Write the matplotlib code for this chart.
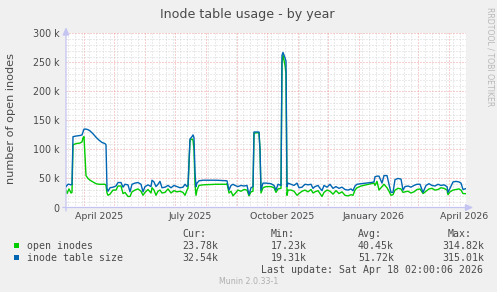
import matplotlib
matplotlib.use("Agg")
import matplotlib.pyplot as plt
import matplotlib.dates as mdates
from matplotlib.ticker import MultipleLocator, FuncFormatter
import pandas as pd

# ---------------- data (values in thousands) ----------------
start_date = "2025-03-14"
day_offset = [0, 1, 2, 3, 5, 6, 7, 10, 14, 16, 17, 18, 19, 20, 22, 24, 27, 30, 33, 36,
              39, 40, 41, 42, 44, 47, 50, 52, 55, 57, 59, 62, 64, 66, 69, 72, 75, 77, 79, 82,
              85, 86, 88, 90, 92, 94, 96, 99, 102, 105, 108, 111, 114, 117, 119, 121, 122, 124, 126, 127,
              128, 129, 130, 131, 133, 137, 150, 160, 161, 163, 165, 167, 169, 172, 175, 178, 181, 183, 185, 187,
              188, 193, 194, 195, 197, 200, 205, 208, 210, 212, 215, 216, 217, 219, 220, 221, 222, 225, 228, 231,
              233, 236, 239, 242, 245, 247, 249, 252, 254, 256, 258, 261, 264, 267, 270, 273, 276, 279, 282, 285,
              287, 289, 291, 295, 300, 305, 308, 309, 311, 313, 316, 318, 321, 323, 325, 327, 329, 332, 335, 337,
              339, 342, 345, 348, 351, 354, 357, 360, 363, 366, 369, 372, 375, 378, 381, 382, 384, 387, 390, 393,
              395, 397, 400]
open_inodes_k = [30, 24, 28, 32, 25, 26, 108, 110, 111, 113, 120, 122, 90, 55, 50, 47, 44, 41, 40, 40,
                 40, 38, 25, 21, 23, 30, 30, 37, 37, 24, 26, 19, 19, 27, 30, 32, 28, 21, 26, 31,
                 25, 34, 30, 21, 28, 30, 25, 26, 32, 25, 29, 27, 28, 26, 21, 30, 33, 116, 118, 116,
                 100, 40, 21, 30, 38, 39, 40, 40, 41, 25, 28, 20, 24, 30, 28, 31, 30, 20, 27, 28,
                 128, 129, 100, 25, 34, 36, 36, 34, 26, 32, 33, 250, 262, 245, 230, 21, 30, 30, 28, 21,
                 24, 28, 30, 27, 31, 25, 27, 29, 24, 19, 26, 30, 28, 23, 29, 24, 27, 21, 20, 22,
                 21, 30, 34, 37, 39, 41, 42, 38, 45, 30, 36, 40, 34, 28, 21, 22, 30, 33, 32, 26,
                 27, 28, 25, 27, 31, 32, 24, 28, 32, 33, 30, 31, 34, 33, 30, 22, 27, 30, 31, 32,
                 30, 24, 23.78]
table_size_k = [36, 38, 40, 40, 39, 40, 122, 123, 124, 125, 130, 135, 135, 135, 134, 132, 127, 121, 116, 112,
                110, 108, 33, 28, 34, 35, 37, 43, 43, 35, 40, 39, 27, 40, 42, 43, 40, 27, 36, 39,
                36, 47, 44, 36, 40, 45, 34, 35, 38, 34, 38, 36, 34, 35, 40, 36, 38, 118, 122, 125,
                120, 60, 36, 42, 46, 47, 47, 46, 46, 30, 38, 40, 38, 36, 38, 37, 38, 22, 34, 36,
                130, 130, 100, 30, 42, 42, 41, 38, 30, 40, 38, 262, 267, 258, 252, 36, 42, 40, 38, 42,
                34, 35, 40, 39, 40, 33, 36, 38, 33, 29, 38, 35, 40, 33, 36, 33, 35, 31, 30, 32,
                29, 37, 40, 41, 42, 43, 44, 53, 54, 54, 42, 55, 55, 40, 26, 26, 48, 50, 49, 30,
                36, 37, 35, 38, 40, 40, 26, 38, 41, 38, 37, 40, 38, 39, 36, 26, 33, 44, 45, 44,
                42, 31, 32.54]

series_labels = ["open inodes", "inode table size"]
series_colors = ["#00CC00", "#0066B3"]
stat_headers = ["Cur:", "Min:", "Avg:", "Max:"]
stats_open = ["23.78k", "17.23k", "40.45k", "314.82k"]
stats_table = ["32.54k", "19.31k", "51.72k", "315.01k"]
quarter_labels = ["April 2025", "July 2025", "October 2025", "January 2026", "April 2026"]
quarter_label_dates = ["2025-04-16", "2025-07-16", "2025-10-16", "2026-01-16", "2026-04-16"]

# ---------------- figure ----------------
W, H = 497, 292
DPI = 100
BG = "#F0F0F0"
TXT = "#4a4a4a"
fig = plt.figure(figsize=(W / DPI, H / DPI), dpi=DPI, facecolor=BG)

def fx(px):
    return px / W

def fy(py):
    return 1 - py / H

x0, x1 = 66, 466
y_top, y_bot = 33.3, 207.5
ax = fig.add_axes([fx(x0), fy(y_bot), (x1 - x0) / W, (y_bot - y_top) / H])
ax.set_facecolor("white")

t0 = pd.Timestamp(start_date)
dates = [t0 + pd.Timedelta(days=d) for d in day_offset]
ax.set_xlim(t0, t0 + pd.Timedelta(days=400))
ax.set_ylim(0, 300000)

# grid
ax.yaxis.set_major_locator(MultipleLocator(50000))
ax.yaxis.set_minor_locator(MultipleLocator(10000))
ax.xaxis.set_major_locator(mdates.MonthLocator())
ax.xaxis.set_minor_locator(mdates.WeekdayLocator(byweekday=mdates.SU))
ax.grid(which="minor", color="#D6D6D6", linestyle=(0, (1, 2)), linewidth=0.72)
ax.grid(which="major", color="#F2A0A0", linestyle=(0, (1, 2)), linewidth=0.72)
ax.set_axisbelow(True)

ax.plot(dates, [v * 1000 for v in open_inodes_k], color=series_colors[0], lw=1.0, zorder=3)
ax.plot(dates, [v * 1000 for v in table_size_k], color=series_colors[1], lw=1.0, zorder=4)

# ticks / labels
ax.tick_params(axis="both", which="both", length=0)
ax.xaxis.set_major_formatter(FuncFormatter(lambda v, p: ""))
ax.yaxis.set_major_formatter(FuncFormatter(lambda v, p: "0" if v == 0 else f"{int(v/1000)} k"))
ax.tick_params(axis="y", labelsize=6.85, labelcolor=TXT, pad=4.5)
for lbl, d in zip(quarter_labels, quarter_label_dates):
    ax.text(pd.Timestamp(d), -0.026, lbl, transform=ax.get_xaxis_transform(),
            ha="center", va="top", fontsize=6.75, color=TXT)

for s in ax.spines.values():
    s.set_visible(False)

AX_COL = "#C4C4F2"
ax.annotate("", xy=(1.018, 0), xytext=(-0.008, 0), xycoords="axes fraction",
            arrowprops=dict(arrowstyle="-|>,head_length=0.45,head_width=0.2", color=AX_COL, lw=0.9,
                            shrinkA=0, shrinkB=0), annotation_clip=False)
ax.annotate("", xy=(0, 1.035), xytext=(0, -0.02), xycoords="axes fraction",
            arrowprops=dict(arrowstyle="-|>,head_length=0.45,head_width=0.2", color=AX_COL, lw=0.9,
                            shrinkA=0, shrinkB=0), annotation_clip=False)

# title & side text
fig.text(fx(247.5), fy(18.3), "Inode table usage - by year", ha="center", va="baseline",
         fontsize=9.06, color=TXT)
fig.text(fx(11.5), fy(119), "number of open inodes", rotation=90, ha="center", va="center",
         fontsize=8.1, color=TXT)
fig.text(fx(490), fy(56.5), "RRDTOOL / TOBI OETIKER", rotation=-90, ha="center", va="center",
         fontsize=5.6, color="#B8B8B8")

# legend
MONO = "DejaVu Sans Mono"
LFS = 7.14
for i, (lab, col) in enumerate(zip(series_labels, series_colors)):
    yb = [248.7, 260.7][i]
    fig.patches.append(plt.Rectangle((fx(14), fy(yb - 0.5)), 5 / W, 5 / H, transform=fig.transFigure,
                                     facecolor=col, edgecolor="none"))
    fig.text(fx(26.7), fy(yb), lab, family=MONO, fontsize=LFS, color=TXT, va="baseline")

col_x = [182, 271, 358, 448]
val_x = [182, 271, 358, 442]
for hx, h in zip(col_x, stat_headers):
    fig.text(fx(hx), fy(237.3), h, family=MONO, fontsize=LFS, color=TXT, va="baseline")
for vx, v1, v2 in zip(val_x, stats_open, stats_table):
    fig.text(fx(vx), fy(248.7), v1, family=MONO, fontsize=LFS, color=TXT, va="baseline")
    fig.text(fx(vx), fy(260.7), v2, family=MONO, fontsize=LFS, color=TXT, va="baseline")
fig.text(fx(483), fy(273.3), "Last update: Sat Apr 18 02:00:06 2026", family=MONO, fontsize=LFS,
         color=TXT, va="baseline", ha="right")
fig.text(fx(249), fy(284), "Munin 2.0.33-1", fontsize=5.7, color="#B0B0B0", ha="center", va="baseline")

fig.savefig("out.png", dpi=DPI, facecolor=BG)
